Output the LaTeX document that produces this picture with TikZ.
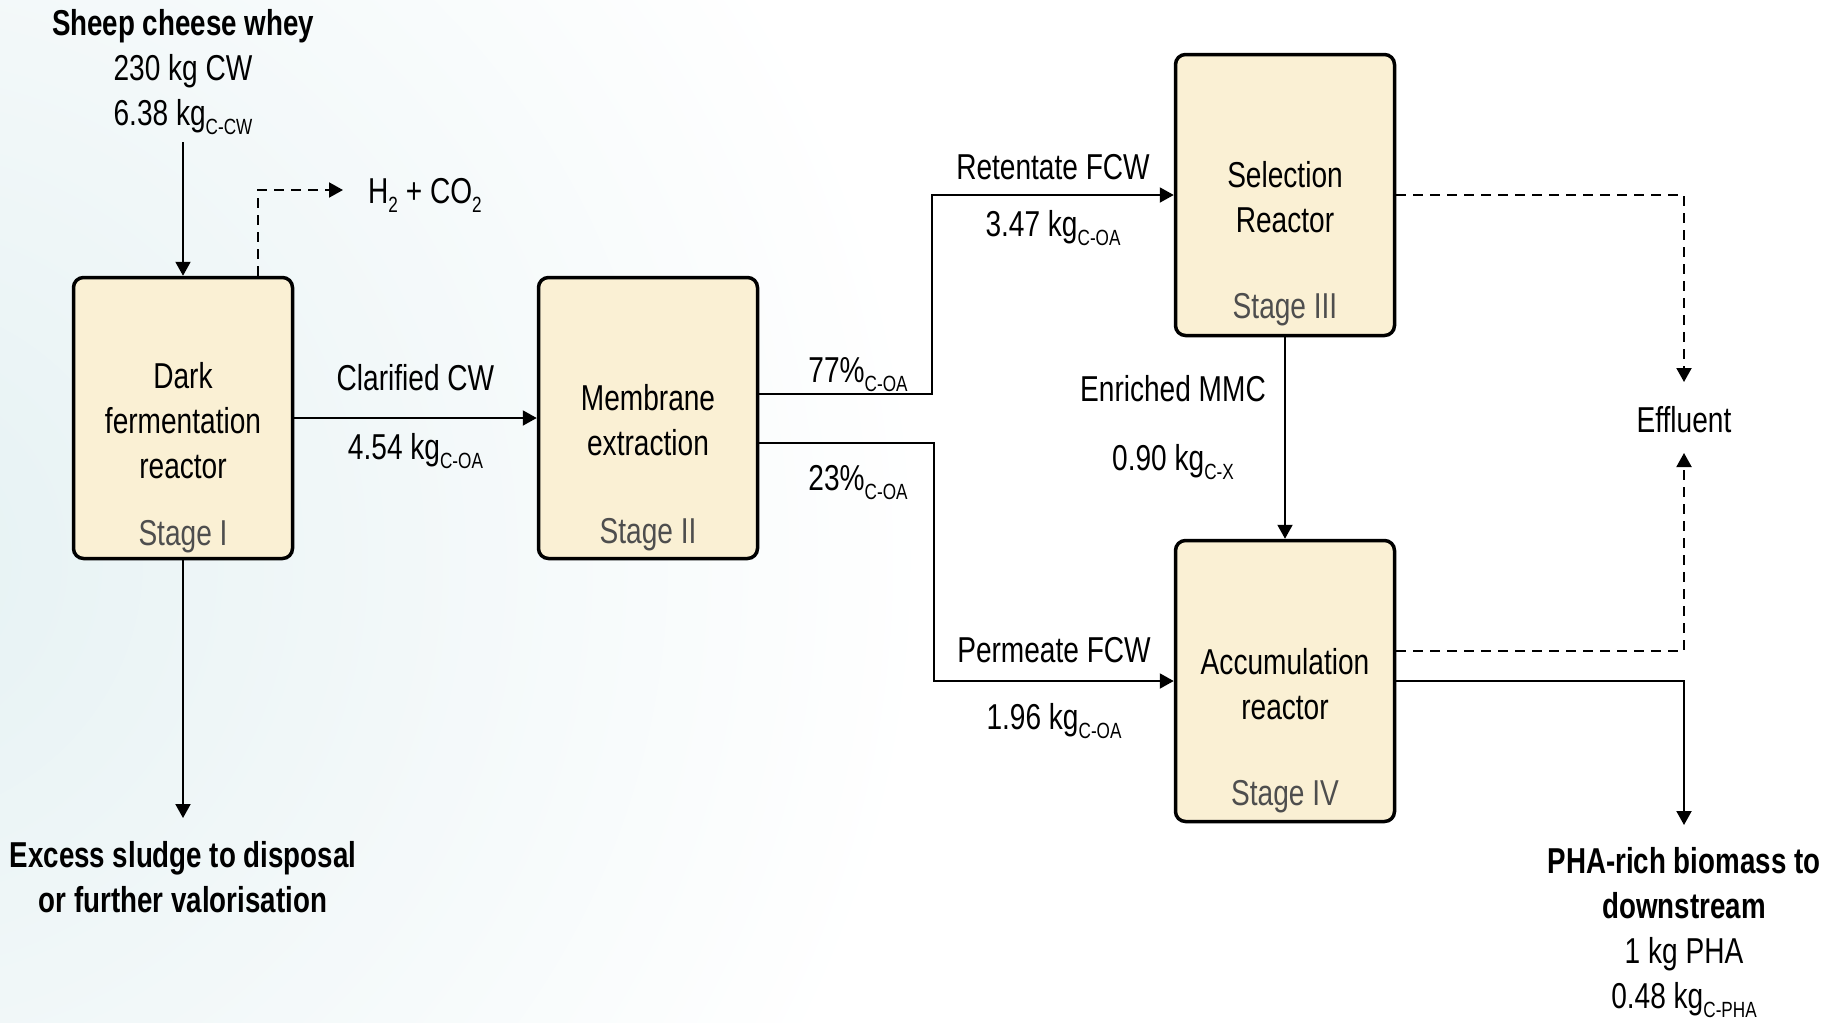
\documentclass[tikz,border=0pt]{standalone}
\usepackage{fontspec}
\setmainfont{Liberation Sans}[FakeStretch=0.78]
\newfontfamily\headfont{Liberation Sans}[FakeStretch=0.77]
\usepackage{xcolor}
\definecolor{cream_box}{RGB}{250,240,212}
\definecolor{grey_stage}{RGB}{78,78,78}
\definecolor{mist_bg}{RGB}{229,241,243}
\usetikzlibrary{calc,arrows.meta,positioning}
\newcommand{\csub}[1]{\raisebox{-9pt}{\fontsize{22}{22}\selectfont #1}}

\begin{document}
\begin{tikzpicture}
[	x=1pt, y=-1pt,
	font=\fontsize{36}{45}\selectfont,
	inner sep=2pt,
	reactor/.style = {rectangle, draw, line width=3.5pt, rounded corners=10pt, fill=cream_box, minimum width=219pt, minimum height=281pt},
	stagetxt/.style = {anchor=base, text=grey_stage},
	flow/.style = {line width=2pt, -{Triangle[length=14pt,width=15pt]}},
	gasflow/.style = {flow, dash pattern=on 10pt off 7pt},
	terminal/.style = {align=center}
]
\useasboundingbox (0,0) rectangle (1832,1023);
\begin{scope}
\clip (0,0) rectangle (1832,1023);
\shade[inner color=mist_bg, outer color=white] (-120,560) circle (1050pt);
\end{scope}

\node[reactor] (dfr) at (183,418) {};
\node[reactor] (mem) at (648,418) {};
\node[reactor] (sel) at (1285,195) {};
\node[reactor] (acc) at (1285,681) {};

\node[align=center] (dfr_txt) at ([yshift=-3pt]dfr.center) {Dark\\fermentation\\reactor};
\node[align=center] (mem_txt) at ([yshift=-2pt]mem.center) {Membrane\\extraction};
\node[align=center] (sel_txt) at ([yshift=-2pt]sel.center) {Selection\\Reactor};
\node[align=center] (acc_txt) at ([yshift=-3pt]acc.center) {Accumulation\\reactor};

\node[stagetxt] (dfr_stage) at ([yshift=15pt]dfr.south) {Stage I};
\node[stagetxt] (mem_stage) at ([yshift=17pt]mem.south) {Stage II};
\node[stagetxt] (sel_stage) at ([yshift=19pt]sel.south) {Stage III};
\node[stagetxt] (acc_stage) at ([yshift=18pt]acc.south) {Stage IV};

\node[terminal, anchor=north] (whey) at (183,7.5) {{\headfont\bfseries Sheep cheese whey}\\230 kg CW\\6.38 kg\csub{C-CW}};
\node[anchor=base west] (gas) at (366,203) {H\csub{2} + CO\csub{2}};
\coordinate (gas_in) at (343,190);

\coordinate (sludge_end) at (183,818);
\node[terminal, below=21pt of sludge_end] (sludge) {\headfont\bfseries Excess sludge to disposal\\\headfont\bfseries or further valorisation};

\coordinate (pha_end) at (1684,825);
\node[terminal, below=20pt of pha_end] (pha) {\headfont\bfseries PHA-rich biomass to\\\headfont\bfseries downstream\\1 kg PHA\\0.48 kg\csub{C-PHA}};

\node[anchor=base] (eff) at (1684,432) {Effluent};
\coordinate (eff_top) at (1684,382);
\coordinate (eff_bot) at (1684,453);

\node[anchor=base] (ret_pct) at (858,382) {77\%\csub{C-OA}};
\node[anchor=base] (per_pct) at (858,490) {23\%\csub{C-OA}};
\node[anchor=base] (mmc) at (1173,401) {Enriched MMC};
\node[anchor=base] (mmc_kg) at (1173,470) {0.90 kg\csub{C-X}};

\draw[flow, shorten <=5pt] (whey) -- (dfr);
\draw[gasflow] ([xshift=75pt]dfr.north) |- (gas_in);
\draw[flow] (dfr) -- (sludge_end);

\draw[flow] (dfr) -- (mem)
	node[midway, anchor=base, yshift=28pt] (clar) {Clarified CW}
	node[midway, anchor=base, yshift=-41pt] (clar_kg) {4.54 kg\csub{C-OA}};

\draw[flow] ([yshift=24pt]mem.east) -- ++(173,0) |- (sel.west)
	node[pos=0.75, anchor=base, yshift=16pt] (ret) {Retentate FCW}
	node[pos=0.75, anchor=base, yshift=-41pt] (ret_kg) {3.47 kg\csub{C-OA}};
\draw[flow] ([yshift=-25pt]mem.east) -- ++(175,0) |- (acc.west)
	node[pos=0.75, anchor=base, yshift=19pt] (per) {Permeate FCW}
	node[pos=0.75, anchor=base, yshift=-48pt] (per_kg) {1.96 kg\csub{C-OA}};

\draw[flow] (sel) -- (acc);
\draw[gasflow] (sel.east) -| (eff_top);
\draw[gasflow] ([yshift=30pt]acc.east) -| (eff_bot);
\draw[flow] (acc.east) -| (pha_end);

\end{tikzpicture}
\end{document}
